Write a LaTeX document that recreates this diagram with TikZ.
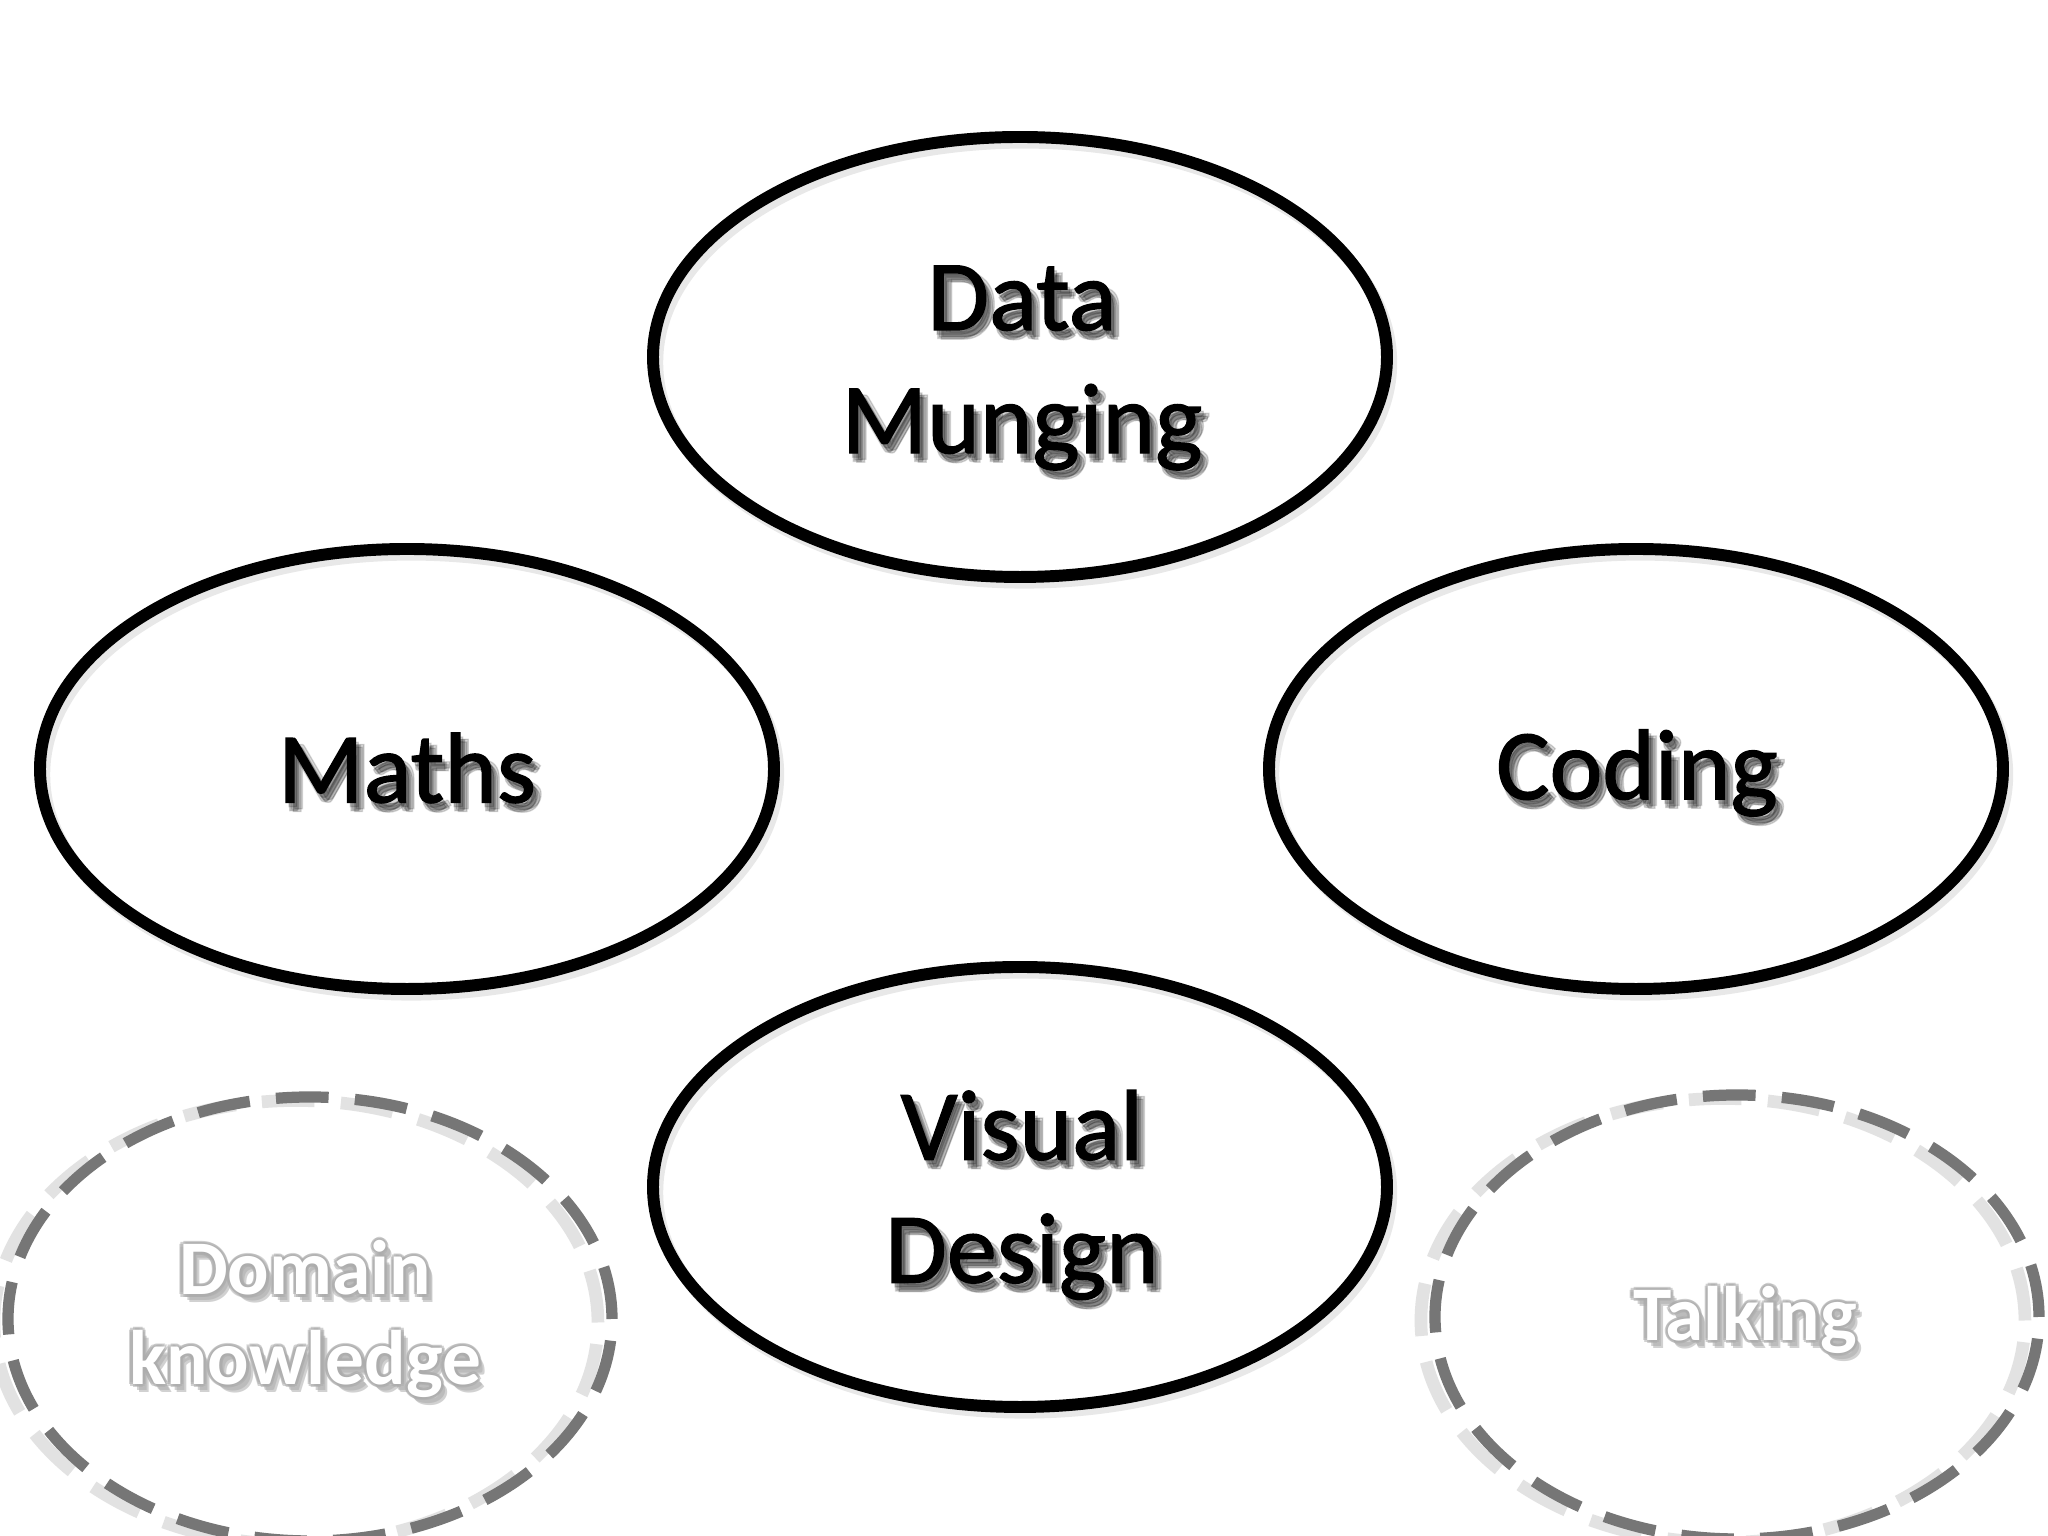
\documentclass[tikz,border=0pt]{standalone}
\usepackage{fontspec}
\setmainfont{Carlito}
\newfontfamily\lblfont[FakeBold=1.3]{Carlito}
\usetikzlibrary{shapes.geometric}
\definecolor{dashgray}{HTML}{767676}
\tikzset{
  skill/.style={ellipse, draw=black, line width=3.4pt, minimum width=7.34cm, minimum height=4.40cm,
    inner sep=0pt, align=center, font=\lblfont\fontsize{28.5}{35}\selectfont, text=black},
  extra/.style={ellipse, draw=dashgray, line width=3.2pt, dash pattern=on 15pt off 7.5pt,
    minimum width=6.04cm, minimum height=4.44cm, inner sep=0pt},
  ghost/.style={ellipse, line width=3.4pt, minimum width=7.34cm, minimum height=4.40cm, inner sep=0pt,
    draw=gray!40, opacity=0.45},
  ghostdash/.style={ellipse, line width=3.6pt, dash pattern=on 15pt off 7.5pt,
    minimum width=6.04cm, minimum height=4.44cm, inner sep=0pt, draw=gray!45, opacity=0.5},
  shtxt/.style={align=center, font=\lblfont\fontsize{28.5}{35}\selectfont, text=black, opacity=0.15, inner sep=0pt},
  shtxtw/.style={align=center, font=\bfseries\fontsize{22}{25.5}\selectfont, text=gray!65, opacity=0.55, inner sep=0pt},
  wlabel/.style={align=center, font=\bfseries\fontsize{22}{25.5}\selectfont, text=white, inner sep=0pt},
  blabel/.style={align=center, font=\lblfont\fontsize{28.5}{35}\selectfont, text=black, inner sep=0pt},
}
\begin{document}
\begin{tikzpicture}
\useasboundingbox[fill=white] (0,0) rectangle (20.48,15.36);
% centres
\coordinate (cDM) at (10.20,11.79);
\coordinate (cMa) at (4.07,7.67);
\coordinate (cCo) at (16.36,7.67);
\coordinate (cVD) at (10.20,3.49);
\coordinate (cDK) at (3.10,2.17);
\coordinate (cTa) at (17.37,2.19);
% label anchors
\coordinate (lDM) at (10.22,11.68);
\coordinate (lMa) at (4.07,7.68);
\coordinate (lCo) at (16.37,7.63);
\coordinate (lVD) at (10.22,3.41);
\coordinate (lDK) at (3.05,2.17);
\coordinate (lTa) at (17.45,2.16);
% soft shadows of the outlines
\node[ghost, xshift=1.2pt, yshift=-1.6pt] (gDM) at (cDM) {};
\node[ghost, xshift=1.2pt, yshift=-1.6pt] (gMa) at (cMa) {};
\node[ghost, xshift=1.2pt, yshift=-1.6pt] (gCo) at (cCo) {};
\node[ghost, xshift=1.2pt, yshift=-1.6pt] (gVD) at (cVD) {};
\node[ghostdash, xshift=-4pt, yshift=-1pt] (gDK) at (cDK) {};
\node[ghostdash, xshift=-4pt, yshift=-1pt] (gTa) at (cTa) {};
% text shadows (black labels)
\foreach \dx/\dy [count=\i] in {0.8/-1.2, 1.4/-2.0, 2.0/-2.6, 1.0/-2.4, 2.4/-1.8}{
  \node[shtxt, xshift=\dx pt, yshift=\dy pt] (sDM\i) at (lDM) {Data\\Munging};
  \node[shtxt, xshift=\dx pt, yshift=\dy pt] (sMa\i) at (lMa) {Maths};
  \node[shtxt, xshift=\dx pt, yshift=\dy pt] (sCo\i) at (lCo) {Coding};
  \node[shtxt, xshift=\dx pt, yshift=\dy pt] (sVD\i) at (lVD) {Visual\\Design};
}
% text outlines (white labels)
\foreach \dx/\dy [count=\i] in {0.9/0, -0.9/0, 0/0.9, 0/-0.9, 0.65/0.65, -0.65/0.65, 0.65/-0.65, -0.65/-0.65, 1.3/-1.7, 1.8/-2.3}{
  \node[shtxtw, xshift=\dx pt, yshift=\dy pt] (oDK\i) at (lDK) {Domain\\knowledge};
  \node[shtxtw, xshift=\dx pt, yshift=\dy pt] (oTa\i) at (lTa) {Talking};
}
% main shapes
\node[skill] (DM) at (cDM) {};
\node[skill] (Ma) at (cMa) {};
\node[skill] (Co) at (cCo) {};
\node[skill] (VD) at (cVD) {};
\node[extra] (DK) at (cDK) {};
\node[extra] (Ta) at (cTa) {};
% labels
\node[blabel] (tDM) at (lDM) {Data\\Munging};
\node[blabel] (tMa) at (lMa) {Maths};
\node[blabel] (tCo) at (lCo) {Coding};
\node[blabel] (tVD) at (lVD) {Visual\\Design};
\node[wlabel] (tDK) at (lDK) {Domain\\knowledge};
\node[wlabel] (tTa) at (lTa) {Talking};
\end{tikzpicture}
\end{document}
